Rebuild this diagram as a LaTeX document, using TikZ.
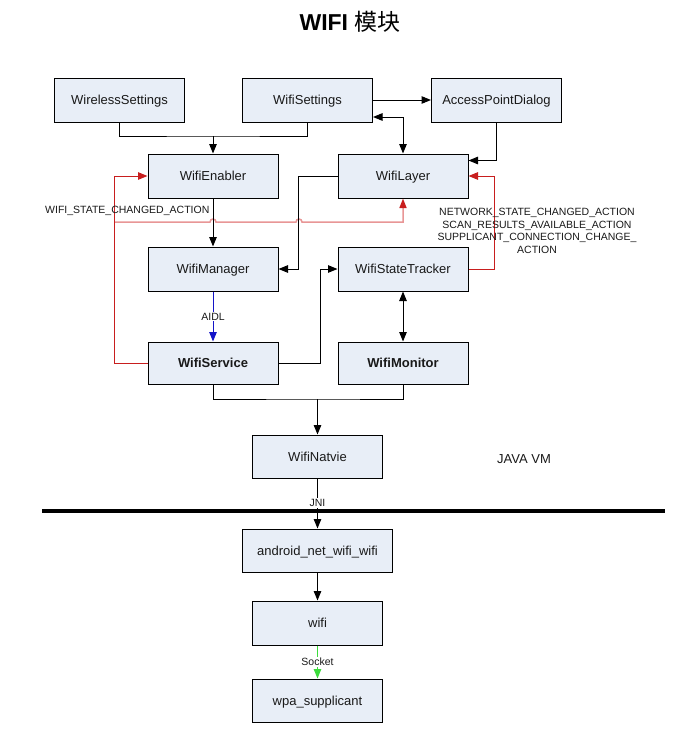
\documentclass[tikz,border=0pt]{standalone}
\usepackage{fontspec}
\setmainfont{Liberation Sans}
\newfontfamily\cjk{Noto Sans CJK SC}
\usetikzlibrary{arrows.meta}
\definecolor{boxfill}{RGB}{232,238,247}
\definecolor{redline}{RGB}{200,30,30}
\definecolor{salmonline}{RGB}{232,150,150}
\definecolor{blueline}{RGB}{20,20,200}
\definecolor{greenline}{RGB}{60,220,60}
\begin{document}
\begin{tikzpicture}[x=1pt,y=-1pt,
  box/.style={draw=black,line width=1pt,fill=boxfill,minimum width=130pt,minimum height=44pt,inner sep=0pt,text height=9.3pt,text depth=0pt,font=\fontsize{13}{15}\selectfont,text=black!90},
  conn/.style={line width=1pt},
  tip/.style={-{Triangle[length=9.5pt,width=7.5pt]}},
  arr/.style={conn,tip},
  arrb/.style={conn,{Triangle[length=9.5pt,width=7.5pt]}-{Triangle[length=9.5pt,width=7.5pt]}},
  lab/.style={font=\fontsize{10.5}{12.7}\selectfont,inner sep=1pt,text=black!90},
  labw/.style={lab,fill=white}]
\useasboundingbox (0,0) rectangle (697,737);
\fill[white] (0,0) rectangle (697,737);
% title
\node (title) at (350,22) {\fontsize{23}{28}\selectfont\textbf{WIFI} {\cjk 模块}};
% boxes
\node[box] (ws)   at (119.5,100) {WirelessSettings};
\node[box] (wset) at (307.5,100) {WifiSettings};
\node[box] (apd)  at (496.5,100) {AccessPointDialog};
\node[box] (en)   at (213,176) {WifiEnabler};
\node[box] (layer) at (403,176) {WifiLayer};
\node[box] (mgr)  at (213,269) {WifiManager};
\node[box] (st)   at (403,269) {WifiStateTracker};
\node[box,minimum height=42pt,font=\fontsize{13}{15}\selectfont\bfseries] (svc) at (213,363) {WifiService};
\node[box,minimum height=42pt,font=\fontsize{13}{15}\selectfont\bfseries] (mon) at (403,363) {WifiMonitor};
\node[box,minimum height=43pt] (nat)  at (317.5,456.5) {WifiNatvie};
\node[box,minimum width=150pt,minimum height=43pt] (andr) at (317.5,550.5) {android\_net\_wifi\_wifi};
\node[box] (wifi) at (317.5,623) {wifi};
\node[box,minimum height=43pt] (wpa)  at (317.5,700.5) {wpa\_supplicant};
\node[font=\fontsize{13}{15}\selectfont,text=black!90] (jvm) at (524,459) {JAVA VM};
% connectors top
\coordinate (j1) at (213,136);
\draw[conn] (ws.south) |- (j1) -| (wset.south);
\draw[arr] (j1) -- (en.north);
\draw[arr] (wset.east) -- (apd.west);
\draw[arrb] ([yshift=-17pt]wset.east) -| (layer.north);
\draw[arr] (apd.south) |- ([yshift=-7pt]layer.north east);
% red arrows
\draw[arr,redline] (st.east) -- ++(26,0) |- (layer.east);
\draw[arr,redline] (svc.west) -- ++(-33,0) |- (en.west);
% salmon broadcast line with hops
\coordinate (s0) at (115,222);
\draw[line width=1.5pt,salmonline,-{Triangle[length=9.5pt,width=7pt,color=redline]}] (s0) -- (210,222) arc[start angle=180,end angle=0,radius=3pt] -- (296,222) arc[start angle=180,end angle=0,radius=3pt] -- (403,222) -- (layer.south);
\node[lab,anchor=west] (wscl) at (44,211) {WIFI\_STATE\_CHANGED\_ACTION};
\node[lab,align=center] (netl) at (537,231) {NETWORK\_STATE\_CHANGED\_ACTION\\SCAN\_RESULTS\_AVAILABLE\_ACTION\\SUPPLICANT\_CONNECTION\_CHANGE\_\\ACTION};
% middle
\draw[arr] (en.south) -- (mgr.north);
\draw[arr] (layer.west) -- ++(-39,0) |- (mgr.east);
\draw[arr] (svc.east) -- ++(42,0) |- (st.west);
\draw[arrb] (st.south) -- (mon.north);
\draw[arr,blueline] (mgr.south) -- node[labw] {AIDL} (svc.north);
\coordinate (j2) at (317.5,399);
\draw[conn] (svc.south) |- (j2) -| (mon.south);
\draw[arr] (j2) -- (nat.north);
% JNI boundary
\coordinate (b0) at (42,511);
\coordinate (b1) at (665,511);
\draw[line width=4pt] (b0) -- (b1);
\draw[arr] (nat.south) -- (andr.north);
\node[labw] (jni) at (317.5,503) {JNI};
\draw[arr] (andr.south) -- (wifi.north);
\draw[arr,greenline] (wifi.south) -- node[labw] {Socket} (wpa.north);
\end{tikzpicture}
\end{document}
